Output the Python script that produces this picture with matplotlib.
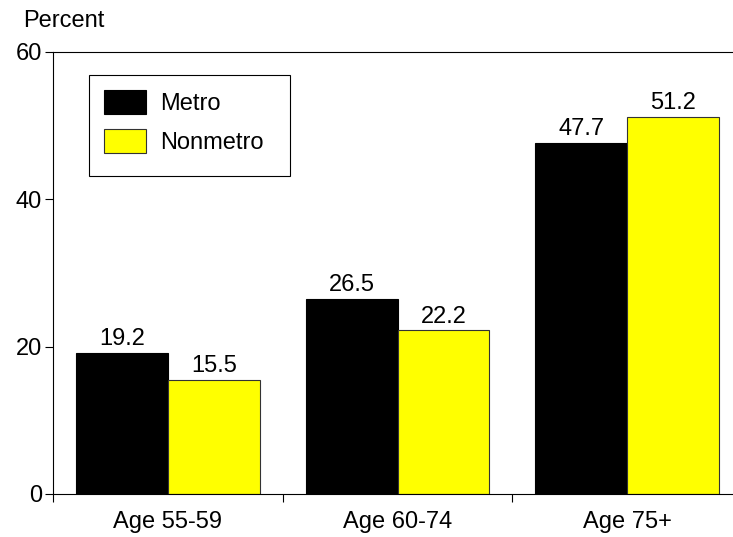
import matplotlib
matplotlib.use("Agg")
import matplotlib.pyplot as plt
from matplotlib.patches import Rectangle
import numpy as np

plt.rcParams['font.family'] = ['Liberation Sans', 'DejaVu Sans']

groups = ["Age 55-59", "Age 60-74", "Age 75+"]
metro = [19.2, 26.5, 47.7]
nonmetro = [15.5, 22.2, 51.2]

fs = 17
W, H = 733, 537
fig = plt.figure(figsize=(W / 100, H / 100), dpi=100)
ax = fig.add_axes([53 / W, (H - 494) / H, (742 - 53) / W, (494 - 52) / H])

x = np.arange(len(groups))
bw = 0.4
b1 = ax.bar(x - bw / 2, metro, bw, color="black", edgecolor="black", linewidth=0.8, label="Metro")
b2 = ax.bar(x + bw / 2, nonmetro, bw, color="#ffff00", edgecolor="#333333", linewidth=0.8, label="Nonmetro")

for bars, vals in ((b1, metro), (b2, nonmetro)):
    for r, v in zip(bars, vals):
        ax.annotate(f"{v:.1f}", (r.get_x() + r.get_width() / 2, v),
                    xytext=(0, 2), textcoords="offset points",
                    ha="center", va="bottom", fontsize=fs)

ax.set_xlim(-0.5, len(groups) - 0.5)
ax.set_ylim(0, 60)
ax.set_yticks([0, 20, 40, 60])
ax.set_xticks(np.arange(len(groups) + 1) - 0.5)
ax.set_xticklabels([])
ax.set_xticks(x, minor=True)
ax.set_xticklabels(groups, minor=True, fontsize=fs)
ax.tick_params(axis="x", which="minor", length=0, pad=12)
ax.tick_params(axis="x", which="major", length=6, width=0.8)
ax.tick_params(axis="y", length=6, width=0.8, labelsize=fs, pad=2)

ax.spines["right"].set_visible(False)
for s in ("left", "top", "bottom"):
    ax.spines[s].set_linewidth(0.8)

# legend without its own frame; box drawn separately to match the wider frame
leg = ax.legend(loc="upper left", bbox_to_anchor=((89 - 53) / 689, (494 - 75) / 442),
                borderaxespad=0, fontsize=fs, frameon=False,
                handlelength=1.78, handleheight=1.19, labelspacing=0.62,
                handletextpad=0.62, borderpad=0.62)
fig.add_artist(Rectangle((89 / W, 1 - 176 / H), (290 - 89) / W, (176 - 75) / H,
                         transform=fig.transFigure, fill=False,
                         edgecolor="black", linewidth=0.8))

fig.text(23 / W, 1 - 27 / H, "Percent", fontsize=fs, ha="left", va="baseline")

fig.savefig("out.png", dpi=100)
